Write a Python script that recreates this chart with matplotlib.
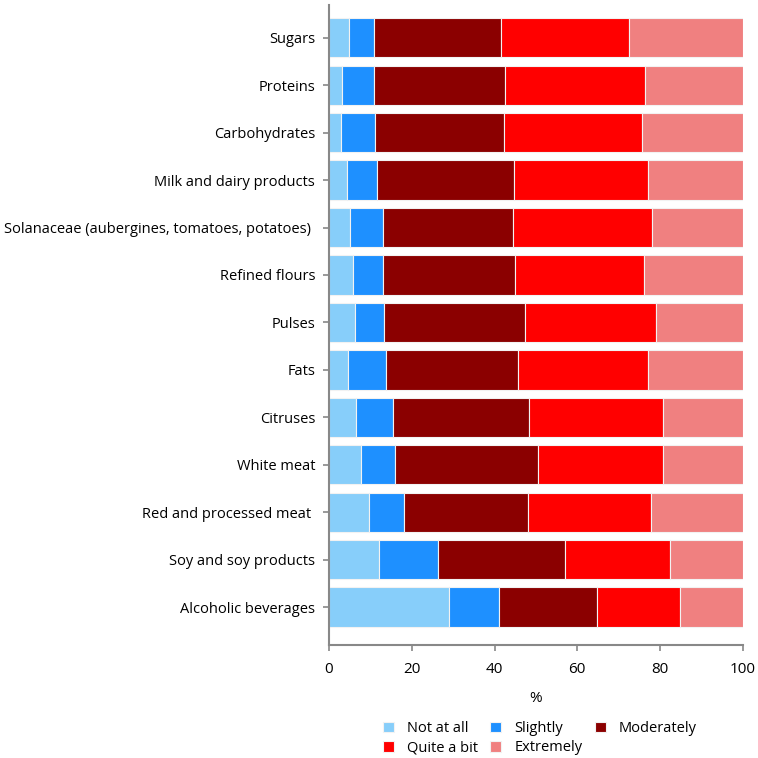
import numpy as np
import matplotlib
matplotlib.use("Agg")
import matplotlib.pyplot as plt

plt.rcParams['font.family'] = ['Open Sans', 'DejaVu Sans']

foods = ["Sugars", "Proteins", "Carbohydrates", "Milk and dairy products",
         "Solanaceae (aubergines, tomatoes, potatoes) ", "Refined flours", "Pulses",
         "Fats", "Citruses", "White meat", "Red and processed meat ",
         "Soy and soy products", "Alcoholic beverages"]

levels = ["Not at all", "Slightly", "Moderately", "Quite a bit", "Extremely"]

not_at_all = [4.8, 3.1, 2.9, 4.3, 5.1, 5.8, 6.3, 4.6, 6.5, 7.7, 9.7, 12.2, 28.9]
slightly = [6.1, 7.9, 8.2, 7.2, 7.9, 7.2, 7.0, 9.2, 8.9, 8.3, 8.5, 14.2, 12.2]
moderately = [30.6, 31.6, 31.3, 33.1, 31.5, 31.9, 34.1, 31.8, 33.0, 34.4, 29.8, 30.6, 23.6]
quite_a_bit = [31.0, 33.7, 33.2, 32.5, 33.6, 31.3, 31.6, 31.6, 32.4, 30.4, 29.7, 25.5, 20.1]
extremely = [27.5, 23.7, 24.4, 22.9, 21.9, 23.8, 21.0, 22.8, 19.2, 19.2, 22.3, 17.5, 15.2]

colors = ["#87CEFA", "#1E90FF", "#8B0000", "#FF0000", "#F08080"]

fig = plt.figure(figsize=(7.58, 7.58), dpi=100)
ax = fig.add_axes([0.434, 0.149, 0.546, 0.845])

y = np.arange(len(foods))[::-1]
left = np.zeros(len(foods))
handles = []
for vals, lab, col in zip([not_at_all, slightly, moderately, quite_a_bit, extremely], levels, colors):
    h = ax.barh(y, vals, left=left, height=0.83, color=col, edgecolor="#f2f2f2",
                linewidth=0.8, label=lab)
    handles.append(h)
    left += np.array(vals)

ax.set_xlim(0, 100)
ax.set_ylim(-0.8, 12.7)
ax.set_yticks(y)
ax.set_yticklabels(foods, fontsize=10.5)
ax.set_xticks([0, 20, 40, 60, 80, 100])
ax.tick_params(axis='both', colors="#888888", labelcolor="black", length=4, width=1.2, pad=6)
ax.tick_params(axis='x', labelsize=11, pad=8)
ax.set_xlabel("%", fontsize=11, labelpad=10)

for s in ["top", "right"]:
    ax.spines[s].set_visible(False)
for s in ["left", "bottom"]:
    ax.spines[s].set_color("#888888")
    ax.spines[s].set_linewidth(1.5)

# reorder so the legend reads row by row
order = [0, 3, 1, 4, 2]
fig.legend([handles[i] for i in order], [levels[i] for i in order],
           loc="center", bbox_to_anchor=(0.712, 0.026), ncol=3, frameon=False,
           fontsize=10.5, handlelength=0.75, handleheight=0.75, columnspacing=0.85,
           labelspacing=0.3, handletextpad=0.9)

fig.savefig("out.png", dpi=100)
